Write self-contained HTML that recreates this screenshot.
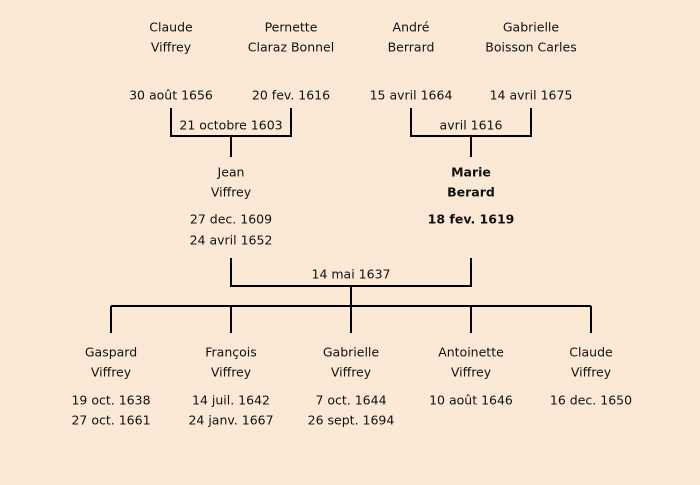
<!DOCTYPE html>
<html><head><meta charset="utf-8"><style>
html,body{margin:0;padding:0;background:#fbe9d6;}
svg{display:block}
text{font-family:"DejaVu Sans","Liberation Sans",sans-serif;font-size:12.5px;fill:#111;text-anchor:middle;dominant-baseline:central}
.b{font-weight:bold}
</style></head><body>
<svg width="700" height="485" viewBox="0 0 700 485">
<rect width="700" height="485" fill="#fbe9d6"/>
<g stroke="#000" stroke-width="2" fill="none">
<path d="M171 108V136H291V108M231 136V157"/>
<path d="M411 108V136H531V108M471 136V157"/>
<path d="M231 258V286H471V258M351 286V306M111 306H591M111 306V333M231 306V333M351 306V333M471 306V333M591 306V333"/>
</g>
<text x="171" y="27">Claude</text><text x="171" y="47">Viffrey</text>
<text x="291" y="27">Pernette</text><text x="291" y="47">Claraz Bonnel</text>
<text x="411" y="27">André</text><text x="411" y="47">Berrard</text>
<text x="531" y="27">Gabrielle</text><text x="531" y="47">Boisson Carles</text>
<text x="171" y="95">30 août 1656</text><text x="291" y="95">20 fev. 1616</text>
<text x="411" y="95">15 avril 1664</text><text x="531" y="95">14 avril 1675</text>
<text x="231" y="125">21 octobre 1603</text><text x="471" y="125">avril 1616</text>
<text x="231" y="172">Jean</text><text x="231" y="192">Viffrey</text>
<text x="231" y="219">27 dec. 1609</text><text x="231" y="240">24 avril 1652</text>
<text class="b" x="471" y="172">Marie</text><text class="b" x="471" y="192">Berard</text>
<text class="b" x="471" y="219">18 fev. 1619</text>
<text x="351" y="274">14 mai 1637</text>
<text x="111" y="352">Gaspard</text><text x="111" y="372">Viffrey</text>
<text x="111" y="400">19 oct. 1638</text><text x="111" y="420">27 oct. 1661</text>
<text x="231" y="352">François</text><text x="231" y="372">Viffrey</text>
<text x="231" y="400">14 juil. 1642</text><text x="231" y="420">24 janv. 1667</text>
<text x="351" y="352">Gabrielle</text><text x="351" y="372">Viffrey</text>
<text x="351" y="400">7 oct. 1644</text><text x="351" y="420">26 sept. 1694</text>
<text x="471" y="352">Antoinette</text><text x="471" y="372">Viffrey</text>
<text x="471" y="400">10 août 1646</text>
<text x="591" y="352">Claude</text><text x="591" y="372">Viffrey</text>
<text x="591" y="400">16 dec. 1650</text>
</svg>
</body></html>
